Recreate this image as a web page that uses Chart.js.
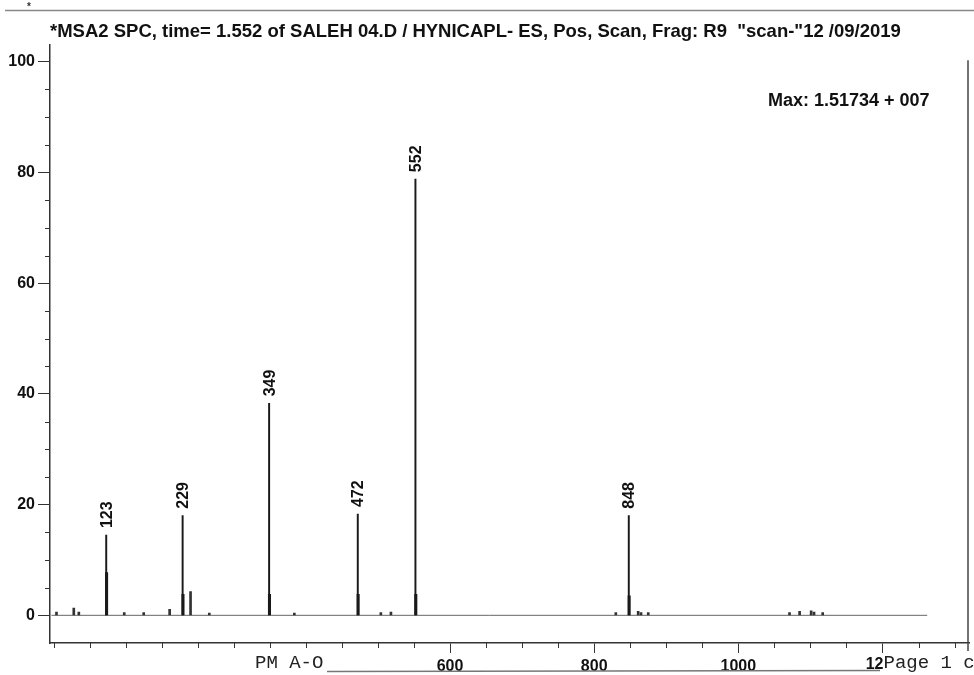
<!DOCTYPE html>
<html>
<head>
<meta charset="utf-8">
<script src="https://cdn.jsdelivr.net/npm/chart.js@4.4.0/dist/chart.umd.min.js"></script>
<style>
  body { margin: 0; background: #fff; }
  #wrap { width: 974px; height: 675px; }
</style>
</head>
<body>
<div id="wrap"><canvas id="myChart"></canvas></div>
<script>
// pics principaux (m/z, intensité relative %)
const peakMz = [123, 229, 349, 472, 552, 848];
const peakInt = [14.5, 18.0, 38.3, 18.3, 78.8, 18.0];
const peakLabels = ['123', '229', '349', '472', '552', '848'];

// épaulements juste à coté des pics (partie plus épaisse en bas)
const isoMz = [123.5, 229.5, 349.5, 472.5, 552.5, 848.5];
const isoInt = [7.7, 3.8, 3.8, 3.8, 3.8, 3.5];

// petits pics du bruit de fond
const smallMz = [54, 78, 85, 148, 175, 211, 240, 266, 384, 504, 518, 830, 861, 865, 875, 1071, 1085, 1101, 1105, 1117];
const smallInt = [0.6, 1.3, 0.6, 0.5, 0.5, 1.1, 4.3, 0.4, 0.4, 0.5, 0.6, 0.5, 0.7, 0.5, 0.5, 0.5, 0.7, 0.8, 0.6, 0.5];

// ligne de base
const baseMz = [47, 1262];
const baseInt = [0, 0];

// graduations
const xLabels = [600, 800, 1000];
const xMajor = [600, 800, 1000, 1200];
const yLabels = [0, 20, 40, 60, 80, 100];

const txtFont = '"Liberation Sans", Arial, sans-serif';
const monoFont = '"Liberation Mono", "DejaVu Sans Mono", monospace';
Chart.defaults.font.family = txtFont;
Chart.defaults.color = '#111';

const pts = (xs, ys) => xs.map((v, i) => ({ x: v, y: ys[i] }));

// petits dessins en plus : étiquettes des pics, petites graduations, textes
const extras = {
  id: 'extras',
  afterDraw(chart) {
    const { ctx, chartArea, scales: { x, y } } = chart;
    ctx.save();

    // étiquettes verticales au dessus des pics
    ctx.font = 'bold 16px ' + txtFont;
    ctx.fillStyle = '#111';
    chart.getDatasetMeta(0).data.forEach((bar, i) => {
      ctx.save();
      ctx.translate(bar.x + 1, bar.y - 7);
      ctx.rotate(-Math.PI / 2);
      ctx.textAlign = 'left';
      ctx.textBaseline = 'middle';
      ctx.fillText(peakLabels[i], 0, 0);
      ctx.restore();
    });

    // petites graduations
    ctx.strokeStyle = '#333';
    ctx.lineWidth = 1;
    for (let v = 5; v <= 100; v += 5) {
      if (yLabels.includes(v)) continue;
      const py = Math.round(y.getPixelForValue(v)) + 0.5;
      ctx.beginPath(); ctx.moveTo(chartArea.left - 5, py); ctx.lineTo(chartArea.left, py); ctx.stroke();
    }
    for (let v = 50; v <= 1300; v += 50) {
      if (xMajor.includes(v)) continue;
      const px = Math.round(x.getPixelForValue(v)) + 0.5;
      ctx.beginPath(); ctx.moveTo(px, chartArea.bottom); ctx.lineTo(px, chartArea.bottom + 5); ctx.stroke();
    }

    // bord droit
    ctx.strokeStyle = '#444';
    ctx.lineWidth = 1.5;
    ctx.beginPath(); ctx.moveTo(chartArea.right - 1, chartArea.top + 15); ctx.lineTo(chartArea.right - 1, chartArea.bottom + 8); ctx.stroke();

    // trait du haut de la page (scan)
    ctx.strokeStyle = '#888';
    ctx.lineWidth = 1.5;
    ctx.beginPath(); ctx.moveTo(5, 10.5); ctx.lineTo(974, 10.5); ctx.stroke();
    ctx.fillStyle = '#333';
    ctx.font = 'bold 10px ' + txtFont;
    ctx.fillText('*', 27, 10);

    // soulignement bas
    ctx.strokeStyle = '#777';
    ctx.beginPath(); ctx.moveTo(327, 671.5); ctx.lineTo(880, 670.5); ctx.stroke();

    // Max
    ctx.fillStyle = '#111';
    ctx.font = 'bold 18px ' + txtFont;
    ctx.textAlign = 'left';
    ctx.textBaseline = 'middle';
    ctx.fillText('Max: 1.51734 + 007', 768, 101);

    // "12" coupé + Page 1 c
    const p12 = x.getPixelForValue(1200);
    ctx.font = 'bold 16px ' + txtFont;
    ctx.textBaseline = 'top';
    ctx.textAlign = 'right';
    ctx.fillText('12', p12 + 1, chartArea.bottom + 14);
    ctx.font = '19px ' + monoFont;
    ctx.textAlign = 'left';
    ctx.textBaseline = 'alphabetic';
    ctx.fillStyle = '#222';
    ctx.fillText('Page 1 c', p12 + 1, 668);
    ctx.fillText('PM A-O', 255, 668);

    ctx.restore();
  }
};

const config = {
  type: 'bar',
  data: {
    datasets: [
      { data: pts(peakMz, peakInt), backgroundColor: '#1a1a1a', barThickness: 1.3, grouped: false },
      { data: pts(isoMz, isoInt), backgroundColor: '#1a1a1a', barThickness: 2.4, grouped: false },
      { data: pts(smallMz, smallInt), backgroundColor: '#333', barThickness: 2, grouped: false },
      { type: 'line', data: pts(baseMz, baseInt), borderColor: '#666', borderWidth: 1, pointRadius: 0 }
    ]
  },
  options: {
    responsive: true,
    maintainAspectRatio: false,
    animation: false,
    layout: { padding: { left: 0, right: 5, top: 0, bottom: 0 } },
    plugins: {
      legend: { display: false },
      tooltip: { enabled: false },
      title: {
        display: true,
        fullSize: false,
        align: 'start',
        text: '*MSA2 SPC, time= 1.552 of SALEH 04.D / HYNICAPL- ES, Pos, Scan, Frag: R9  "scan-"12 /09/2019',
        color: '#111',
        font: { size: 18.5, weight: 'bold', lineHeight: 1.2 },
        padding: { top: 21, bottom: 2 }
      }
    },
    scales: {
      x: {
        type: 'linear',
        min: 45,
        max: 1320,
        offset: false,
        border: { color: '#333', width: 1.5 },
        grid: {
          offset: false,
          drawOnChartArea: false,
          tickLength: 10,
          color: '#333'
        },
        afterBuildTicks: s => { s.ticks = xMajor.map(v => ({ value: v })); },
        ticks: {
          autoSkip: false,
          maxRotation: 0,
          padding: 4,
          font: { size: 16, weight: 'bold' },
          callback: v => xLabels.includes(v) ? String(v) : ''
        },
        afterFit: s => { s.height = 32; }
      },
      y: {
        min: -5,
        max: 103,
        border: { color: '#333', width: 1.5 },
        grid: {
          drawOnChartArea: false,
          tickLength: 12,
          color: '#333'
        },
        afterBuildTicks: s => { s.ticks = yLabels.map(v => ({ value: v })); },
        ticks: {
          autoSkip: false,
          padding: 3,
          font: { size: 16, weight: 'bold' },
          callback: v => String(v)
        },
        afterFit: s => { s.width = 50; }
      }
    }
  },
  plugins: [extras]
};

const myChart = new Chart(document.getElementById('myChart'), config);
</script>
</body>
</html>
